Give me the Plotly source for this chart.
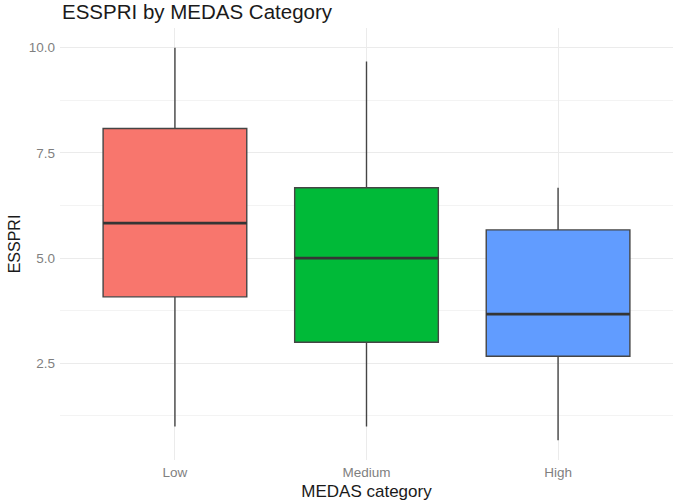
import plotly.graph_objects as go

categories = ["Low", "Medium", "High"]
lower = [1.0, 1.0, 0.67]
q1 = [4.08, 3.0, 2.67]
median = [5.83, 5.0, 3.67]
q3 = [8.08, 6.67, 5.67]
upper = [10.0, 9.67, 6.67]
colors = ["#F8766D", "#00BA38", "#619CFF"]
box_width = 0.75

fig = go.Figure()
for i, cat in enumerate(categories):
    fig.add_trace(go.Box(
        x=[i], q1=[q1[i]], median=[median[i]], q3=[q3[i]],
        lowerfence=[lower[i]], upperfence=[upper[i]],
        width=box_width, whiskerwidth=0,
        fillcolor=colors[i], line=dict(color="#454545", width=1.4),
        name=cat, showlegend=False, hoverinfo="skip",
    ))
    fig.add_trace(go.Scatter(
        x=[i - box_width / 2, i + box_width / 2], y=[median[i], median[i]],
        mode="lines", line=dict(color="#353535", width=2.8),
        showlegend=False, hoverinfo="skip",
    ))

ymin = min(lower); ymax = max(upper)
pad = 0.05 * (ymax - ymin)

fig.update_layout(
    width=677, height=504,
    margin=dict(l=60, r=4, t=28, b=44),
    paper_bgcolor="white", plot_bgcolor="white",
    font=dict(family="Liberation Sans, Arial, sans-serif", color="#000000"),
    title=dict(text="ESSPRI by MEDAS Category", x=62 / 677, xanchor="left",
               y=1 - 12 / 504, yanchor="middle",
               font=dict(size=20.5, color="#1A1A1A")),
    xaxis=dict(
        range=[-0.6, len(categories) - 0.4],
        tickmode="array", tickvals=list(range(len(categories))), ticktext=categories,
        showgrid=True, gridcolor="#EBEBEB", gridwidth=1, zeroline=False,
        showline=False, ticks="", tickfont=dict(size=13.5, color="#7F7F7F"),
        ticklabelstandoff=2,
        title=dict(text="MEDAS category", font=dict(size=17, color="#1A1A1A"), standoff=6),
    ),
    yaxis=dict(
        range=[ymin - pad, ymax + pad],
        tickmode="array", tickvals=[2.5, 5.0, 7.5, 10.0],
        ticktext=["2.5", "5.0", "7.5", "10.0"],
        showgrid=True, gridcolor="#EBEBEB", gridwidth=1, zeroline=False,
        showline=False, ticks="", tickfont=dict(size=13.5, color="#7F7F7F"),
        ticklabelstandoff=4,
        minor=dict(tickvals=[1.25, 3.75, 6.25, 8.75], showgrid=True,
                   gridcolor="#F3F3F3", gridwidth=1),
        title=dict(text="ESSPRI", font=dict(size=16, color="#1A1A1A"), standoff=4),
    ),
)

fig.write_html("out.html")
